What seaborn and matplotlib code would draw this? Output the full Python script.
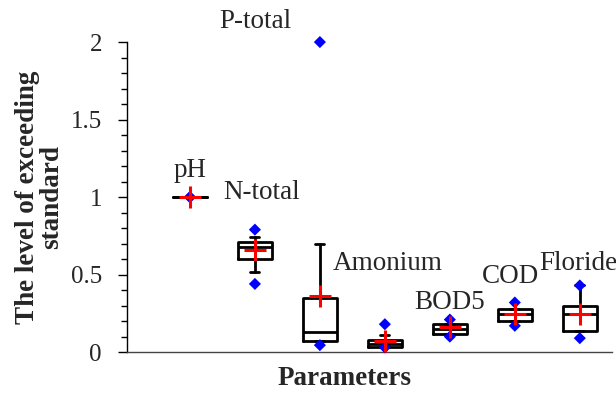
import matplotlib
matplotlib.use("Agg")
import matplotlib.pyplot as plt
import seaborn as sns
import pandas as pd

# box statistics
params = ["pH", "N-total", "P-total", "Amonium", "BOD5", "COD", "Floride"]
q1 = [1.00, 0.60, 0.07, 0.03, 0.12, 0.20, 0.135]
med = [1.00, 0.68, 0.13, 0.05, 0.15, 0.245, 0.245]
q3 = [1.00, 0.71, 0.35, 0.077, 0.18, 0.28, 0.30]
wlo = [1.00, 0.52, 0.07, 0.03, 0.12, 0.20, 0.135]
whi = [1.00, 0.74, 0.70, 0.11, 0.18, 0.28, 0.43]
means = [1.00, 0.66, 0.36, 0.07, 0.16, 0.245, 0.245]
maxv = [1.00, 0.79, 2.00, 0.18, 0.21, 0.32, 0.43]
minv = [1.00, 0.44, 0.045, 0.03, 0.10, 0.17, 0.09]

# label anchors (left edge x, centre y) as on the reference
lab_x = [0.0, 0.52, 1.0, 2.2, 3.45, 4.5, 5.37]
lab_y = [1.17, 1.03, 2.13, 0.57, 0.32, 0.49, 0.57]
lab_ha = ["center", "left", "center", "left", "left", "left", "left"]

sns.set_style("ticks")
plt.rcParams["font.family"] = ["Liberation Serif", "DejaVu Serif"]

fig = plt.figure(figsize=(6.16, 3.93), dpi=100)
ax = fig.add_axes([0.206, 0.104, 0.788, 0.789])

pos = list(range(len(params)))
stats = [dict(q1=a, med=m, q3=b, whislo=lo, whishi=hi, fliers=[])
         for a, m, b, lo, hi in zip(q1, med, q3, wlo, whi)]
ax.bxp(stats, positions=pos, widths=0.52, showfliers=False,
       boxprops=dict(color="black", linewidth=2.0),
       medianprops=dict(color="black", linewidth=2.0),
       whiskerprops=dict(color="black", linewidth=2.0),
       capprops=dict(color="black", linewidth=2.0),
       capwidths=0.14)

ext = pd.DataFrame({"x": pos * 2, "y": maxv + minv})
sns.scatterplot(data=ext, x="x", y="y", ax=ax, marker="D", color="#0000ff",
                s=38, edgecolor="none", zorder=4, clip_on=False)
mdf = pd.DataFrame({"x": pos, "y": means})
sns.scatterplot(data=mdf, x="x", y="y", ax=ax, marker="+", color="#ff0000",
                s=260, linewidth=2.2, zorder=5)

for name, x, y, ha in zip(params, lab_x, lab_y, lab_ha):
    ax.text(x, y, name, ha=ha, va="center", fontsize=19.5, clip_on=False)

ax.set_xlim(-0.97, 6.5)
ax.set_ylim(0, 2)
ax.set_yticks([0, 0.5, 1, 1.5, 2])
ax.set_yticklabels(["0", "0.5", "1", "1.5", "2"])
ax.set_yticks([i / 10 for i in range(21)], minor=True)
ax.set_xticks([])
ax.tick_params(axis="y", which="major", length=6.5, width=1.0, labelsize=18,
               color="black", pad=11.5)
ax.tick_params(axis="y", which="minor", length=4.3, width=1.0, color="black")
sns.despine(ax=ax)
ax.spines["left"].set_color("black")
ax.spines["bottom"].set_color("#444444")
ax.spines["left"].set_linewidth(1.0)
ax.spines["bottom"].set_linewidth(1.0)

ax.set_xlabel("Parameters", fontsize=19.5, fontweight="bold")
ax.xaxis.set_label_coords(0.448, -0.045)
ax.set_ylabel("The level of exceeding\nstandard", fontsize=19.5,
              fontweight="bold", linespacing=0.92)
ax.yaxis.set_label_coords(-0.13, 0.5)

fig.savefig("out.png", dpi=100)
